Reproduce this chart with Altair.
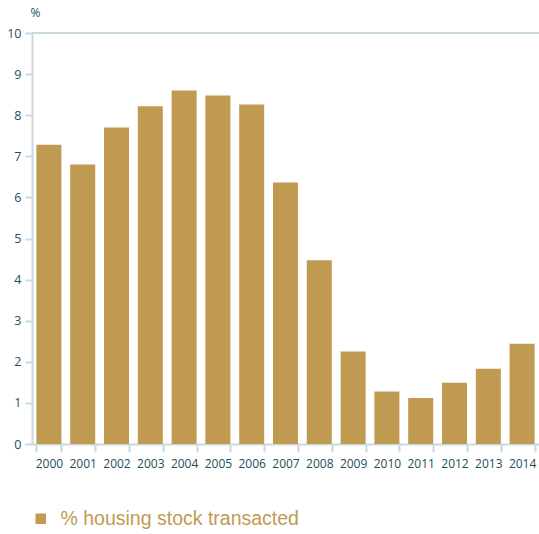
import altair as alt
import pandas as pd

years = [str(y) for y in range(2000, 2015)]
values = [7.28, 6.80, 7.70, 8.22, 8.60, 8.48, 8.26, 6.36, 4.47, 2.25, 1.28, 1.12, 1.49, 1.83, 2.44]
series = "% housing stock transacted"

df = pd.DataFrame({"year": years, "value": values, "series": [series] * len(years)})

GOLD = "#C19A52"
AXIS = "#CAD9DE"
LABEL = "#1E4E5B"
FONT = "Open Sans"

bars = alt.Chart(df).mark_bar(color=GOLD).encode(
    x=alt.X(
        "year:O",
        title=None,
        scale=alt.Scale(paddingInner=0.26, paddingOuter=0.13),
        axis=alt.Axis(
            labelAngle=0, labelColor=LABEL, labelFontSize=12, labelFont=FONT,
            domainColor=AXIS, domainWidth=2, tickColor=AXIS, tickWidth=2, tickSize=8,
            tickBand="extent", labelPadding=6,
        ),
    ),
    y=alt.Y(
        "value:Q",
        scale=alt.Scale(domain=[0, 10]),
        axis=alt.Axis(
            values=list(range(0, 11)), title="%", titleAngle=0, titleAlign="left",
            titleX=-2, titleY=-14, titleFont=FONT, titleFontSize=12, titleFontWeight="normal",
            titleColor=LABEL, labelColor=LABEL, labelFontSize=12.5, labelFont=FONT,
            domainColor=AXIS, domainWidth=2, tickColor=AXIS, tickWidth=2, tickSize=7,
            labelPadding=4, grid=False,
        ),
    ),
    fill=alt.Fill(
        "series:N",
        scale=alt.Scale(range=[GOLD]),
        legend=alt.Legend(
            title=None, orient="none", legendX=-1, legendY=476,
            symbolType="square", symbolSize=110, labelFontSize=19.5, labelColor=GOLD,
            labelFont="Liberation Sans", symbolStrokeWidth=0, labelOffset=10,
            labelLimit=0,
        ),
    ),
)

top = alt.Chart(pd.DataFrame({"v": [10]})).mark_rule(color=AXIS, strokeWidth=2).encode(
    y=alt.Y("v:Q", scale=alt.Scale(domain=[0, 10])),
    x=alt.value(0), x2=alt.value(507),
)

chart = alt.layer(bars, top).properties(
    width=507, height=411,
    padding={"left": 32, "top": 33, "right": 0, "bottom": 90},
    autosize=alt.AutoSizeParams(type="none"),
).configure_view(stroke=None)

chart.save("out.html", embed_options={"renderer": "svg", "actions": False})
